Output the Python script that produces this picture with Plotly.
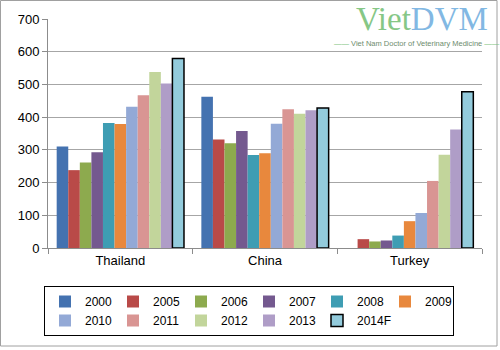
import plotly.graph_objects as go

countries = ["Thailand", "China", "Turkey"]
years = ["2000", "2005", "2006", "2007", "2008", "2009", "2010", "2011", "2012", "2013", "2014F"]
v2000 = [310, 462, None]
v2005 = [238, 332, 27]
v2006 = [261, 320, 20]
v2007 = [293, 358, 23]
v2008 = [382, 284, 38]
v2009 = [379, 290, 82]
v2010 = [432, 380, 107]
v2011 = [467, 424, 205]
v2012 = [538, 410, 285]
v2013 = [503, 421, 362]
v2014F = [579, 428, 478]
series = [v2000, v2005, v2006, v2007, v2008, v2009, v2010, v2011, v2012, v2013, v2014F]
colors = ["#4472B0", "#B94A48", "#8DAA4E", "#74598F", "#3E9DB3", "#E8883D",
          "#93A9D6", "#D99593", "#C2D59B", "#AF9DC7", "#93CBDC"]

fig = go.Figure()
for name, vals, col in zip(years, series, colors):
    last = name == "2014F"
    fig.add_trace(go.Bar(
        name=name, x=countries, y=vals, marker_color=col,
        marker_line=dict(color="#000000" if last else col, width=1.5 if last else 0),
    ))

PW, PH = 434, 229
fig.update_layout(
    width=500, height=350,
    margin=dict(l=48, r=18, t=19, b=102),
    paper_bgcolor="white", plot_bgcolor="white",
    barmode="group", bargap=0.12, bargroupgap=0,
    font=dict(family="Liberation Sans, Arial, sans-serif", size=13, color="#000000"),
    showlegend=True,
    legend=dict(orientation="h", x=(249-48)/PW, xanchor="center", y=-(286-248)/PH, yanchor="top",
                bordercolor="#000000", borderwidth=1, font=dict(size=12),
                entrywidth=23, entrywidthmode="pixels", traceorder="normal",
                itemwidth=30),
    xaxis=dict(showline=True, linecolor="#8C8C8C", linewidth=1, ticks="outside",
               tickson="boundaries", ticklen=5, tickcolor="#8C8C8C", showgrid=False),
    yaxis=dict(range=[0, 700], dtick=100, showline=True, linecolor="#8C8C8C", linewidth=1,
               ticks="outside", ticklen=5, tickcolor="#8C8C8C",
               gridcolor="#A6A6A6", gridwidth=1, zeroline=False),
    shapes=[dict(type="rect", xref="paper", yref="paper",
                 x0=-47.5/PW, x1=1 + 15/PW, y0=-(346-248)/PH, y1=1 + 18.5/PH,
                 line=dict(color="#A0A0A0", width=1), layer="below")],
    annotations=[
        dict(text="<span style='color:#86C786'>Viet</span><span style='color:#82B8E3'>DVM</span>",
             xref="paper", yref="paper", x=(422-48)/PW, y=1 + (19-39)/PH,
             xanchor="center", yanchor="bottom",
             showarrow=False, font=dict(family="Liberation Serif, serif", size=33)),
        dict(text="<span style='color:#7CC47C'>\u2014\u2014</span> Viet Nam Doctor of Veterinary Medicine <span style='color:#7CC47C'>\u2014\u2014</span>",
             xref="paper", yref="paper", x=(417-48)/PW, y=1 + (19-37)/PH,
             xanchor="center", yanchor="top",
             showarrow=False, font=dict(family="Liberation Sans, sans-serif",
                                        size=7.5, color="#6E8C6E")),
    ],
)
fig.write_html("out.html")
